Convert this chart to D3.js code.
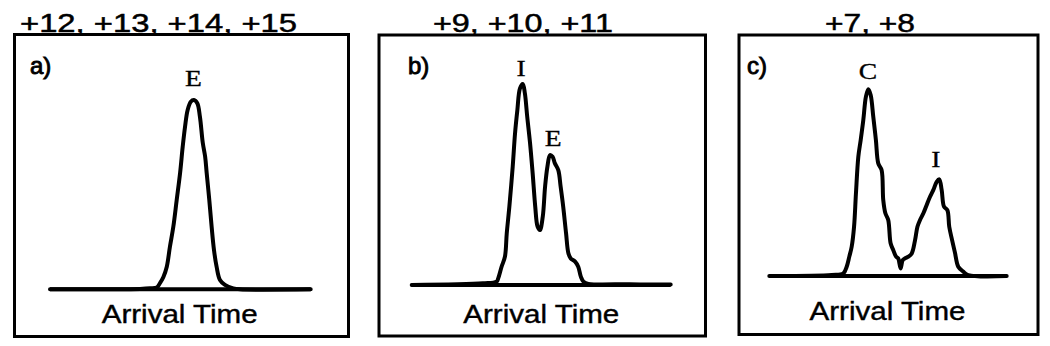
<!DOCTYPE html>
<html>
<head>
<meta charset="utf-8">
<script src="https://cdn.jsdelivr.net/npm/d3@7"></script>
<style>
  html, body { margin: 0; padding: 0; background: #fff; }
  svg { display: block; }
</style>
</head>
<body>
<div id="chart"></div>
<script>
// Charge-state groups shown above each panel
const titles = ["+12, +13, +14, +15", "+9, +10, +11", "+7, +8"];
const panelLetters = ["a)", "b)", "c)"];
const xLabel = "Arrival Time";

// Arrival-time distributions: [time (0-100 of window), relative intensity]
const traceA = [
    [0, 0], [34.5, 0.2], [38.4, 0.5], [41.0, 1.0], [42.2, 3.3], [43.5, 6.5],
    [44.8, 11.9], [46.0, 22.4], [47.3, 32.9], [48.6, 47.0], [49.9, 61.2],
    [50.9, 75.0], [51.8, 85.6], [52.8, 94.4], [54.0, 98.7], [55.2, 99.6],
    [56.5, 97.9], [57.5, 90.9], [58.6, 77.1], [59.5, 69.9], [60.1, 61.2],
    [61.1, 47.0], [62.0, 32.9], [62.9, 20.7], [63.9, 11.9], [65.2, 4.9],
    [67.1, 2.3], [70.3, 0.5], [72.9, 0], [100, 0]
];
const traceB = [
    [0, 0], [27.5, 0.9], [32.8, 1.8], [33.4, 3.5], [34.7, 9.6], [36.0, 14.9],
    [36.7, 27.2], [37.7, 41.2], [39.0, 62.3], [39.9, 79.8], [40.8, 92.1],
    [41.8, 103.5], [42.9, 105.8], [43.7, 100.9], [44.6, 88.6], [45.7, 74.6],
    [46.7, 58.8], [47.7, 41.2], [48.6, 30.7], [49.5, 28.9], [50.6, 35.9],
    [51.5, 51.8], [52.4, 62.3], [53.4, 68.4], [54.4, 67.5], [55.3, 64.0],
    [56.6, 60.5], [57.5, 51.8], [58.5, 41.2], [59.6, 27.2], [60.5, 16.7],
    [61.4, 14.0], [63.1, 12.3], [64.3, 9.6], [65.3, 4.4], [66.3, 1.8],
    [68.2, 0.5], [72.7, 0.3], [84.2, 0.4], [91.9, 0.2], [100, 0.3]
];
const traceC = [
    [0, 0], [26.3, 0.5], [31.2, 1.4], [32.6, 4.9], [33.7, 10.2], [34.7, 15.4],
    [35.7, 25.9], [36.5, 43.5], [37.5, 62.8], [38.5, 71.6], [39.6, 82.1],
    [40.7, 94.4], [41.7, 98.3], [42.7, 95.3], [43.8, 83.8], [44.9, 71.6],
    [45.9, 59.3], [47.3, 55.8], [48.0, 40.0], [48.9, 33.0], [50.1, 29.5],
    [51.1, 17.2], [52.2, 13.7], [53.4, 10.2], [54.3, 9.3], [55.3, 4.0],
    [56.2, 8.4], [57.2, 9.3], [58.6, 10.2], [60.0, 11.9], [61.4, 18.9],
    [62.4, 25.9], [63.5, 29.5], [64.9, 33.0], [66.3, 37.4], [67.7, 41.7],
    [69.1, 45.3], [70.5, 49.6], [71.6, 50.9], [72.6, 45.3], [73.6, 36.5],
    [75.0, 34.7], [75.8, 25.9], [77.0, 18.9], [78.2, 12.3], [79.6, 4.9],
    [81.7, 2.3], [83.8, 0.5], [100, 0]
];
const traces = [traceA, traceB, traceC];

// Conformer labels at peaks: [label, time, intensity]
const peaksA = [["E", 55.0, 107]];
const peaksB = [["I", 42.2, 110], ["E", 54.6, 73.3]];
const peaksC = [["C", 41.6, 103.7], ["I", 70.2, 57.5]];
const peaks = [peaksA, peaksB, peaksC];

const W = 1050, H = 346;

// Page layout for each panel (box, plotting window, text anchors)
const layout = [
    { box: [14.5, 34.5, 348.5, 336.5], x0: 50, x1: 310.7, base: 289.3, titleX: 158.5, titleW: 277, letterX: 30, labelX: 179.7, labelY: 323 },
    { box: [379, 35, 705.5, 336], x0: 411.7, x1: 670.7, base: 285, titleX: 522.9, titleW: 180, letterX: 408, labelX: 541.3, labelY: 323 },
    { box: [739, 35, 1038, 334.5], x0: 769.3, x1: 1006.7, base: 276, titleX: 870, titleW: 90, letterX: 747, labelX: 887.5, labelY: 320 }
];

const sans = "'Liberation Sans', Arial, sans-serif";
const serif = "'Liberation Serif', 'Times New Roman', serif";

const svg = d3.select("#chart").append("svg")
    .attr("width", W)
    .attr("height", H);

svg.append("rect").attr("width", W).attr("height", H).attr("fill", "#fff");

layout.forEach((p, i) => {
    const g = svg.append("g");

    const x = d3.scaleLinear().domain([0, 100]).range([p.x0, p.x1]);
    const y = d3.scaleLinear().domain([0, 100]).range([p.base, p.base - 190]);

    // Frame
    g.append("rect")
        .attr("x", p.box[0])
        .attr("y", p.box[1])
        .attr("width", p.box[2] - p.box[0])
        .attr("height", p.box[3] - p.box[1])
        .attr("fill", "none")
        .attr("stroke", "#000")
        .attr("stroke-width", 3);

    // Title
    g.append("text")
        .attr("x", p.titleX)
        .attr("y", 31.5)
        .attr("text-anchor", "middle")
        .attr("font-family", sans)
        .attr("font-size", 26.5)
        .attr("textLength", p.titleW)
        .attr("lengthAdjust", "spacingAndGlyphs")
        .attr("fill", "#000")
        .attr("stroke", "#000")
        .attr("stroke-width", 0.5)
        .text(titles[i]);

    // Panel letter
    g.append("text")
        .attr("x", p.letterX)
        .attr("y", 73.5)
        .attr("font-family", sans)
        .attr("font-size", 24)
        .attr("fill", "#000")
        .attr("stroke", "#000")
        .attr("stroke-width", 0.9)
        .text(panelLetters[i]);

    // Time axis baseline
    g.append("path")
        .attr("d", d3.line()([[x(0), y(0)], [x(100), y(0)]]))
        .attr("stroke", "#000")
        .attr("stroke-width", 4)
        .attr("fill", "none");

    // Arrival-time distribution
    g.append("path")
        .datum(traces[i])
        .attr("d", d3.line()
            .x(d => x(d[0]))
            .y(d => y(d[1]))
            .curve(d3.curveCatmullRom.alpha(0.5)))
        .attr("fill", "none")
        .attr("stroke", "#000")
        .attr("stroke-width", 4)
        .attr("stroke-linejoin", "round")
        .attr("stroke-linecap", "round");

    // Peak labels
    peaks[i].forEach(d => {
        g.append("text")
            .attr("transform", `translate(${x(d[1])},${y(d[2])}) scale(1.2,1)`)
            .attr("text-anchor", "middle")
            .attr("font-family", serif)
            .attr("font-size", 23)
            .attr("fill", "#000")
            .attr("stroke", "#000")
            .attr("stroke-width", 0.3)
            .text(d[0]);
    });

    // Axis label
    g.append("text")
        .attr("x", p.labelX)
        .attr("y", p.labelY)
        .attr("text-anchor", "middle")
        .attr("font-family", sans)
        .attr("font-size", 25.5)
        .attr("textLength", 156)
        .attr("lengthAdjust", "spacingAndGlyphs")
        .attr("fill", "#000")
        .attr("stroke", "#000")
        .attr("stroke-width", 0.4)
        .text(xLabel);
});
</script>
</body>
</html>
